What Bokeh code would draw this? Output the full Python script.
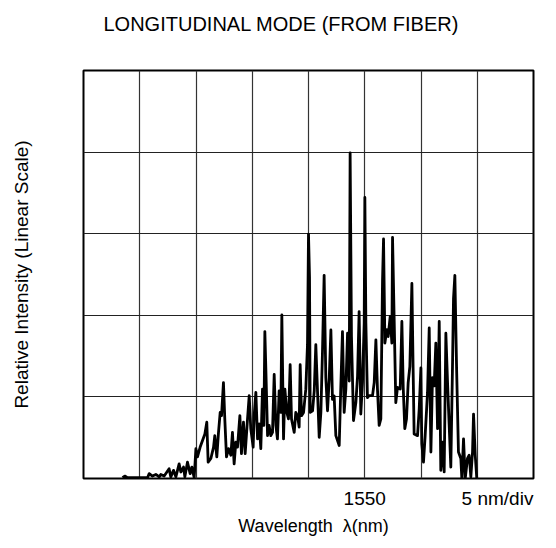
from bokeh.plotting import figure
from bokeh.models import Range1d, FixedTicker
from bokeh.embed import file_html
from bokeh.resources import INLINE

# Wavelength (nm) and relative intensity (% of full scale, 5 div = 100)
wavelength = [
    1528.47, 1528.67, 1528.91, 1530.69, 1530.84, 1531.13, 1531.43, 1531.73, 1531.87, 1532.17,
    1532.61, 1532.76, 1533.00, 1533.21, 1533.50, 1533.65, 1533.89, 1534.01, 1534.24, 1534.48,
    1534.63, 1534.84, 1534.99, 1535.13, 1535.37, 1535.58, 1535.79, 1535.96, 1536.08, 1536.32,
    1536.56, 1536.67, 1536.85, 1537.00, 1537.15, 1537.27, 1537.44, 1537.56, 1537.71, 1537.89,
    1538.10, 1538.24, 1538.39, 1538.54, 1538.69, 1538.90, 1539.04, 1539.22, 1539.37, 1539.58,
    1539.73, 1539.87, 1540.08, 1540.17, 1540.32, 1540.47, 1540.62, 1540.76, 1540.91, 1541.03,
    1541.12, 1541.21, 1541.36, 1541.50, 1541.65, 1541.80, 1541.95, 1542.10, 1542.24, 1542.39,
    1542.54, 1542.63, 1542.78, 1542.90, 1543.07, 1543.22, 1543.37, 1543.49, 1543.73, 1543.87,
    1544.02, 1544.17, 1544.26, 1544.38, 1544.56, 1544.76, 1544.91, 1545.00, 1545.09, 1545.15,
    1545.36, 1545.51, 1545.65, 1545.80, 1545.95, 1546.10, 1546.24, 1546.39, 1546.54, 1546.69,
    1546.84, 1546.99, 1547.13, 1547.28, 1547.43, 1547.73, 1547.87, 1548.02, 1548.17, 1548.32,
    1548.47, 1548.62, 1548.70, 1548.82, 1549.00, 1549.21, 1549.36, 1549.50, 1549.65, 1549.80,
    1549.95, 1550.01, 1550.10, 1550.24, 1550.39, 1550.69, 1550.84, 1550.99, 1551.13, 1551.28,
    1551.43, 1551.58, 1551.67, 1551.79, 1551.96, 1552.08, 1552.26, 1552.41, 1552.47, 1552.61,
    1552.76, 1552.91, 1553.15, 1553.30, 1553.42, 1553.56, 1553.71, 1553.86, 1554.01, 1554.19,
    1554.30, 1554.39, 1554.69, 1554.84, 1554.99, 1555.07, 1555.22, 1555.37, 1555.58, 1555.73,
    1555.88, 1556.02, 1556.17, 1556.32, 1556.47, 1556.62, 1556.76, 1556.91, 1557.06, 1557.21,
    1557.36, 1557.50, 1557.65, 1557.80, 1557.89, 1558.01, 1558.16, 1558.33, 1558.54, 1558.63,
    1558.78, 1558.93, 1559.13, 1559.28, 1559.43, 1559.58, 1559.67, 1559.82, 1559.96,
]
intensity = [
    0.2, 0.6, 0.2, 0.2, 1.2, 0.6, 1.0, 0.4, 1.0, 0.6,
    2.4, 0.4, 2.0, 0.4, 3.6, 1.6, 2.8, 0.4, 4.0, 1.2,
    2.8, 0.2, 7.3, 5.3, 7.7, 9.3, 10.9, 13.8, 4.0, 4.9,
    7.7, 10.5, 5.3, 11.3, 16.2, 15.4, 23.5, 14.6, 5.3, 7.3,
    5.7, 11.3, 3.6, 8.9, 7.7, 15.4, 6.1, 13.8, 6.1, 14.6,
    20.3, 12.2, 7.7, 15.4, 21.1, 9.7, 13.4, 7.3, 21.9, 13.0,
    36.0, 26.7, 10.5, 13.0, 10.5, 11.3, 25.5, 13.0, 9.7, 21.5,
    16.2, 40.1, 9.7, 21.9, 16.2, 14.6, 27.9, 14.6, 11.3, 16.2,
    15.4, 12.6, 27.9, 15.4, 16.2, 21.9, 32.8, 59.9, 49.4, 16.2,
    16.6, 21.5, 32.8, 21.5, 10.1, 16.2, 30.8, 49.8, 24.7, 16.6,
    24.3, 36.4, 19.4, 20.2, 10.5, 8.1, 22.3, 36.0, 16.2, 21.9,
    35.6, 23.9, 79.8, 34.8, 14.2, 18.6, 25.1, 40.9, 15.8, 23.5,
    38.1, 68.9, 38.1, 19.8, 20.3, 20.3, 23.5, 34.0, 21.9, 13.0,
    14.6, 48.6, 58.7, 33.2, 36.5, 34.8, 39.7, 33.2, 59.1, 39.7,
    18.6, 22.3, 21.9, 38.5, 22.3, 12.2, 14.6, 23.5, 27.5, 47.8,
    26.7, 10.9, 10.5, 17.0, 27.1, 8.5, 4.0, 10.5, 21.1, 36.9,
    6.5, 24.7, 22.7, 33.2, 12.2, 38.5, 2.0, 8.9, 1.6, 35.6,
    23.5, 13.4, 2.8, 27.5, 44.1, 49.8, 27.5, 6.5, 4.9, 0.0,
    9.7, 0.0, 4.9, 5.7, 0.4, 6.5, 15.8, 5.7, 0.0,
]

grid_x = [1525, 1530, 1535, 1540, 1545, 1550, 1555, 1560, 1565]
grid_y = [0, 20, 40, 60, 80, 100]
x_tick_pos = [1550, 1561.8]
x_tick_labels = ["1550", "5 nm/div"]

FONT = "Liberation Sans"
W, H = 548, 538

p = figure(width=W, height=H, output_backend="svg", toolbar_location=None,
           x_range=Range1d(1525, 1565), y_range=Range1d(0, 100),
           min_border_left=83, min_border_right=15, min_border_top=68, min_border_bottom=58)

p.line(wavelength, intensity, line_color="black", line_width=2.8, line_join="round")

p.xaxis.ticker = FixedTicker(ticks=x_tick_pos)
p.xaxis.major_label_overrides = dict(zip(x_tick_pos, x_tick_labels))
p.yaxis.ticker = FixedTicker(ticks=grid_y)
p.yaxis.major_label_overrides = {t: "" for t in grid_y}
p.xgrid.ticker = FixedTicker(ticks=grid_x)
p.ygrid.ticker = FixedTicker(ticks=grid_y)
for ax in (p.xaxis, p.yaxis):
    ax.axis_line_color = None
    ax.major_tick_line_color = None
    ax.minor_tick_line_color = None
    ax.major_label_text_font = FONT
    ax.major_label_text_font_size = "19px"
    ax.major_label_text_color = "black"
    ax.axis_label_text_font = FONT
    ax.axis_label_text_font_size = "18px"
    ax.axis_label_text_font_style = "normal"
    ax.axis_label_text_color = "black"
p.xaxis.major_label_standoff = 3
p.xaxis.axis_label = "\u00a0\u00a0Wavelength\u00a0\u00a0\u03bb(nm)"
p.xaxis.axis_label_standoff = 4
p.yaxis.axis_label = "Relative Intensity (Linear Scale)"
p.yaxis.axis_label_text_font_size = "19px"
p.yaxis.axis_label_standoff = 46

p.title.text = "LONGITUDINAL MODE (FROM FIBER)\n\u00a0"
p.title.text_font = FONT
p.title.text_font_size = "20px"
p.title.text_font_style = "normal"
p.title.text_color = "black"
p.title.align = "left"
p.title.offset = 20
p.title.vertical_align = "top"
p.title.standoff = 24

p.xgrid.grid_line_color = "#333333"
p.ygrid.grid_line_color = "#222222"
p.xgrid.grid_line_width = 1.2
p.ygrid.grid_line_width = 1.2
p.outline_line_color = "black"
p.outline_line_width = 2
p.background_fill_color = "white"
p.border_fill_color = "white"

open("out.html", "w").write(file_html(p, INLINE))
